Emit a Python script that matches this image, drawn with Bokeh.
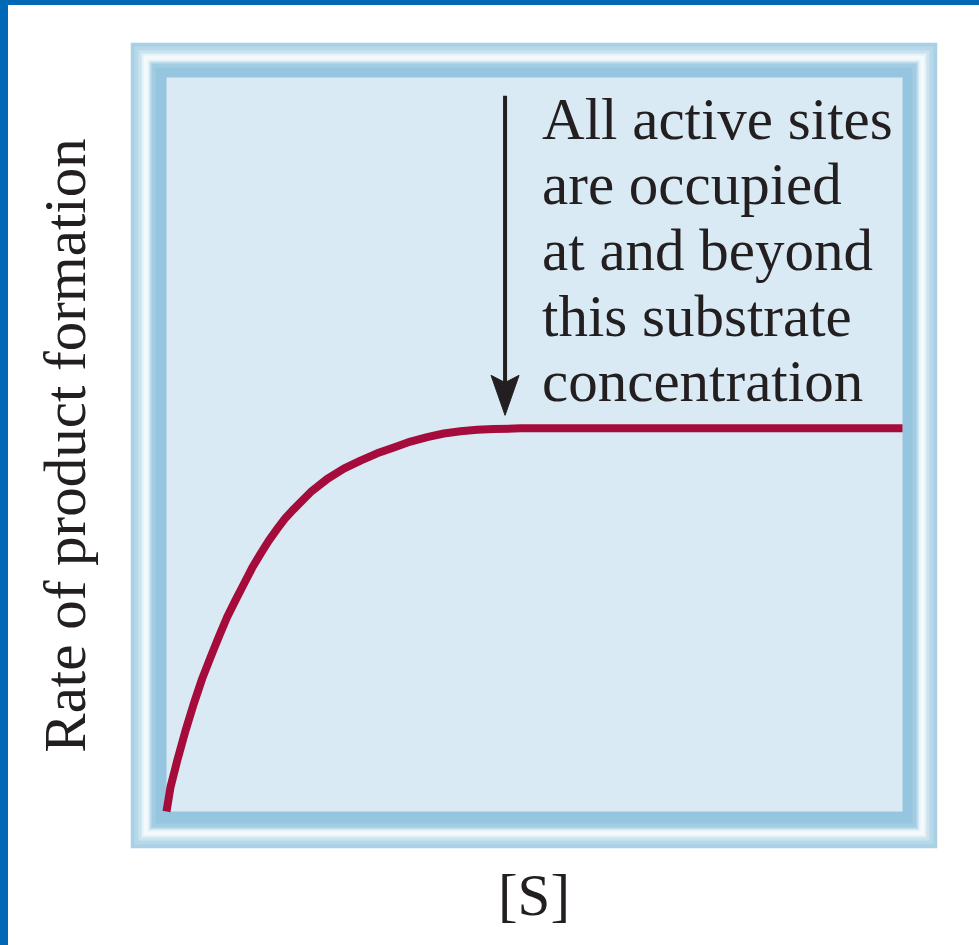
from bokeh.plotting import figure
from bokeh.models import Range1d, FixedTicker, InlineStyleSheet
from bokeh.core.properties import value
from bokeh.embed import file_html
from bokeh.resources import INLINE

# ---- data ----
S = [0.0, 0.054, 0.145, 0.258, 0.371, 0.485, 0.598, 0.711, 0.824, 0.938, 1.051, 1.164, 1.277,
     1.390, 1.504, 1.617, 1.730, 1.957, 2.183, 2.409, 2.636, 2.862, 3.089, 3.315, 3.542, 3.768,
     3.995, 4.221, 4.447, 4.81, 10.0]
rate = [0.0, 0.033, 0.069, 0.110, 0.147, 0.181, 0.210, 0.238, 0.265, 0.288, 0.310, 0.332, 0.351,
        0.369, 0.385, 0.400, 0.412, 0.435, 0.453, 0.467, 0.478, 0.488, 0.496, 0.504, 0.510, 0.515,
        0.518, 0.520, 0.521, 0.522, 0.522]
saturation_S = 4.6
arrow_top = 0.975
text_top_baseline = 0.944
annotation_lines = ["All active sites", "are occupied", "at and beyond", "this substrate", "concentration"]
x_label = "[S]"
y_label = "Rate of product formation"

# ---- layout ----
W, H = 979, 945
ML, MR, MT, MB = 130, 42, 42, 97
IN_L, IN_R, IN_T, IN_B = 36, 35, 35, 37
fw, fh = W - ML - MR, H - MT - MB
ux = (fw - IN_L - IN_R) / 10.0
uy = (fh - IN_T - IN_B) / 1.0
x0, x1 = -IN_L / ux, 10 + IN_R / ux
y0, y1 = -IN_B / uy, 1 + IN_T / uy

SERIF = "Liberation Serif"
INK = "#231f20"
EDGE = "#0068b4"

p = figure(width=W, height=H, x_range=Range1d(x0, x1), y_range=Range1d(y0, y1),
           min_border_left=ML, min_border_right=MR, min_border_top=MT, min_border_bottom=MB,
           output_backend="svg", toolbar_location=None, title=None,
           background_fill_color="white", border_fill_color="white", outline_line_color=None)
css = (
    ":host { position: fixed !important; left: 0px !important; top: 0px !important; margin: 0px !important; }\n"
    ":host::before { content: ''; position: absolute; left: 0px; top: 0px; width: 8px; height: %dpx;"
    " background: %s; z-index: 100; pointer-events: none; }\n"
    ":host::after { content: ''; position: absolute; left: 0px; top: 0px; width: %dpx; height: 5px;"
    " background: %s; z-index: 100; pointer-events: none; }\n" % (H, EDGE, W, EDGE)
)
p.stylesheets = [InlineStyleSheet(css=css)]
p.grid.visible = False

for ax in (p.xaxis[0], p.yaxis[0]):
    ax.ticker = FixedTicker(ticks=[])
    ax.axis_line_color = None
    ax.major_tick_line_color = None
    ax.minor_tick_line_color = None
    ax.major_tick_out = 0
    ax.major_label_text_font_size = "0px"
    ax.axis_label_text_font = SERIF
    ax.axis_label_text_font_size = "59px"
    ax.axis_label_text_font_style = "normal"
    ax.axis_label_text_color = INK
p.xaxis.axis_label = x_label
p.yaxis.axis_label = y_label
p.xaxis.axis_label_standoff = 13
p.yaxis.axis_label_standoff = 33

# ---- bevelled panel ----
layers = [(0, "#a9d0e5"), (4, "#b6d8e9"), (8, "#cae3ef"), (11, "#e2f0f7"), (13, "#f4f9fc"),
          (17, "#e8f3f9"), (19, "#bedcec"), (21, "#a2cce2"), (25, "#96c6df")]
for inset, col in layers:
    p.quad(left=x0 + inset / ux, right=x1 - inset / ux, bottom=y0 + inset / uy, top=y1 - inset / uy,
           fill_color=col, line_color=None)
p.quad(left=0, right=10, bottom=0, top=1, fill_color="#d9eaf4", line_color=None)

# ---- curve ----
p.line(S, rate, line_color="#a50b3b", line_width=8, line_cap="butt", line_join="round")

# ---- arrow ----
head_len = 40 / uy
head_half = 14 / ux
tip = max(rate) + 13 / uy
p.segment(x0=[saturation_S], y0=[arrow_top], x1=[saturation_S], y1=[tip + head_len * 0.8],
          line_color=INK, line_width=4)
p.patch([saturation_S - head_half, saturation_S, saturation_S + head_half, saturation_S],
        [tip + head_len, tip + head_len * 0.82, tip + head_len, tip],
        fill_color=INK, line_color=INK, line_width=1)

# ---- annotation text ----
line_step = 65.7 / uy
tx = saturation_S + 37 / ux
p.text(x=[tx] * len(annotation_lines),
       y=[text_top_baseline - i * line_step for i in range(len(annotation_lines))],
       text=annotation_lines, text_font=value(SERIF), text_font_size="59px",
       text_color=INK, text_baseline="alphabetic", text_align="left")

open("out.html", "w").write(file_html(p, INLINE))
